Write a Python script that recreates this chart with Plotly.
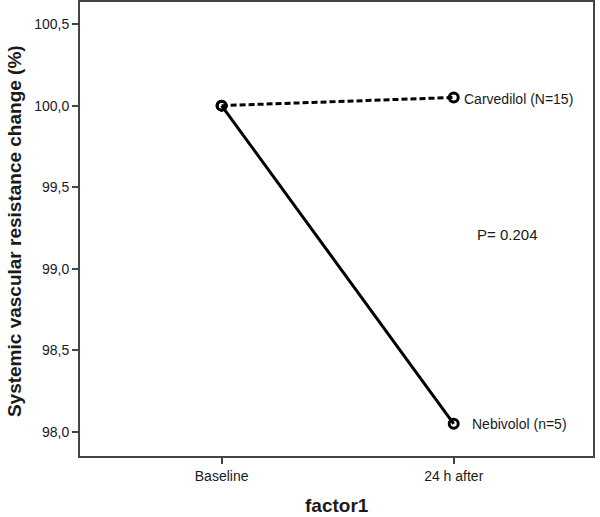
import plotly.graph_objects as go

# data
time_points = ['Baseline', '24 h after']
carvedilol = [100.0, 100.05]
nebivolol = [100.0, 98.05]
y_ticks = [98.0, 98.5, 99.0, 99.5, 100.0, 100.5]
y_tick_labels = ['98,0', '98,5', '99,0', '99,5', '100,0', '100,5']

FONT = 'Liberation Sans, Arial, sans-serif'
TXT = '#1a1a1a'

fig = go.Figure()

fig.add_trace(go.Scatter(
    x=time_points, y=carvedilol, mode='lines+markers',
    line=dict(color='black', width=3, dash='6px,3px'),
    marker=dict(symbol='circle-open', size=9, color='black', line=dict(width=3)),
    name='Carvedilol (N=15)'
))
fig.add_trace(go.Scatter(
    x=time_points, y=nebivolol, mode='lines+markers',
    line=dict(color='black', width=3),
    marker=dict(symbol='circle-open', size=9, color='black', line=dict(width=3)),
    name='Nebivolol (n=5)'
))

# series labels at end points
fig.add_annotation(x=time_points[1], y=carvedilol[1], text='Carvedilol (N=15)',
                   showarrow=False, xanchor='left', xshift=8, yshift=-2,
                   font=dict(family=FONT, size=14, color=TXT))
fig.add_annotation(x=time_points[1], y=nebivolol[1], text='Nebivolol (n=5)',
                   showarrow=False, xanchor='left', xshift=16,
                   font=dict(family=FONT, size=14, color=TXT))
fig.add_annotation(x=1.09, y=99.21, xref='x', yref='y', text='P= 0.204',
                   showarrow=False, xanchor='left',
                   font=dict(family=FONT, size=15, color=TXT))

# axis titles placed by hand
fig.add_annotation(x=0.5, y=-0.11, xref='paper', yref='paper', text='<b>factor1</b>',
                   showarrow=False, xanchor='center', yanchor='middle',
                   font=dict(family=FONT, size=19, color=TXT))
fig.add_annotation(x=-0.129, y=0.495, xref='paper', yref='paper',
                   text='<b>Systemic vascular resistance change (%)</b>',
                   showarrow=False, textangle=-90, xanchor='center', yanchor='middle',
                   font=dict(family=FONT, size=19, color=TXT))

fig.update_layout(
    width=600, height=517,
    margin=dict(l=80, r=7, t=2, b=61),
    plot_bgcolor='white', paper_bgcolor='white',
    showlegend=False,
    font=dict(family=FONT, size=14, color=TXT),
)
fig.update_xaxes(
    type='category', range=[-0.61, 1.6], automargin=False,
    showgrid=False, showline=True, linecolor='#444', linewidth=2, mirror=True,
    ticks='outside', ticklen=6, tickcolor='#444', tickwidth=2,
    tickfont=dict(family=FONT, size=14, color=TXT),
)
fig.update_yaxes(
    range=[97.853, 100.635], tickvals=y_ticks, ticktext=y_tick_labels, automargin=False,
    showgrid=False, zeroline=False, showline=True, linecolor='#444', linewidth=2, mirror=True,
    ticks='outside', ticklen=6, tickcolor='#444', tickwidth=2,
    tickfont=dict(family=FONT, size=14, color=TXT),
)

# drop the browser's default body margin so the figure sits at the page corner
fig.write_html('out.html', config={'displayModeBar': False},
               post_script="document.body.style.margin='0';")
